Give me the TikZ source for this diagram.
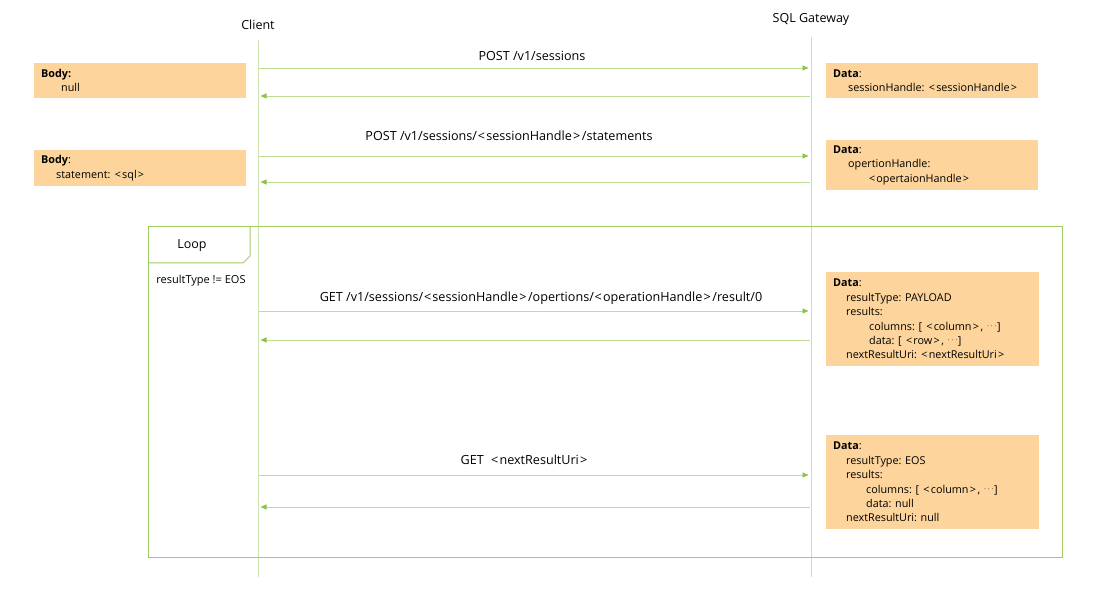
\documentclass[tikz,border=0pt]{standalone}
\usepackage{fontspec}
\setmainfont{Open Sans}
\usetikzlibrary{arrows.meta}
\definecolor{lifeline}{RGB}{205,228,175}
\definecolor{msgline}{RGB}{190,222,150}
\definecolor{tipgreen}{RGB}{140,195,70}
\definecolor{loopgreen}{RGB}{160,205,100}
\definecolor{boxfill}{RGB}{253,212,155}
\tikzset{
  lifelinestyle/.style={draw=lifeline, line width=1pt},
  msg/.style={draw=msgline, line width=0.9pt, -{Triangle[length=6pt,width=5pt,fill=tipgreen,color=tipgreen]}, shorten >=1.5pt},
  msglabel/.style={font=\fontsize{12.6}{14}\selectfont, inner sep=1pt},
  actor/.style={font=\fontsize{12.5}{14}\selectfont, inner sep=1pt},
  infobox/.style={rectangle, fill=boxfill, anchor=north west, inner xsep=7pt, inner ysep=2pt,
    align=left, font=\fontsize{10.8}{14.4}\selectfont},
  loopframe/.style={draw=loopgreen, line width=1pt},
}
\newcommand{\ind}[1]{\hspace*{#1pt}}
\newcommand{\mydots}{\raisebox{0.35ex}{\scalebox{0.8}{$\cdots$}}}
\newcommand{\LT}{\hspace{0.8pt}<\hspace{1.2pt}}
\newcommand{\GT}{\hspace{1.2pt}>\hspace{1.6pt}}
\frenchspacing
\begin{document}
\begin{tikzpicture}[x=1pt,y=-1pt]
\useasboundingbox (0,0) rectangle (1095,593);
% actors
\node[actor] (client) at (258,25) {Client};
\node[actor] (gw) at (811,19) {SQL Gateway};
\coordinate (ctop) at (258,40);
\coordinate (cbot) at (258,577);
\coordinate (gtop) at (811,37);
\coordinate (gbot) at (811,577);
\draw[lifelinestyle] (ctop) -- (cbot);
\draw[lifelinestyle] (gtop) -- (gbot);

% loop frame
\draw[loopframe] (148,227) rectangle (1062,557);
\draw[loopframe] (148,263) -- (243,263) -- (250,256) -- (250,227);
\node[font=\fontsize{12.5}{14}\selectfont] (looplbl) at (192,246) {Loop};
\node[font=\fontsize{11}{12}\selectfont] (guard) at (201,281) {resultType != EOS};

% message anchor points
\foreach \i/\y in {1/68,2/96,3/156,4/182,5/311,6/340,7/475,8/507}{
  \coordinate (c\i) at (259,\y);
  \coordinate (g\i) at (810,\y);
}
\draw[msg] (c1) -- (g1);
\draw[msg] (g2) -- (c2);
\draw[msg] (c3) -- (g3);
\draw[msg] (g4) -- (c4);
\draw[msg] (c5) -- (g5);
\draw[msg] (g6) -- (c6);
\draw[msg] (c7) -- (g7);
\draw[msg] (g8) -- (c8);

\node[msglabel] (l1) at (532,56) {POST /v1/sessions};
\node[msglabel] (l3) at (509,136) {POST /v1/sessions/\LT sessionHandle\GT/statements};
\node[msglabel] (l5) at (541,298) {GET /v1/sessions/\LT sessionHandle\GT/opertions/\LT operationHandle\GT/result/0};
\node[msglabel] (l7) at (524,460) {GET\ \ \LT nextResultUri\GT};

% boxes
\node[infobox, text width=198pt, minimum height=35pt] (b1) at (34,63)
  {\textbf{Body:}\\\ind{20}null};
\node[infobox, text width=198pt, minimum height=36pt] (b2) at (34,150)
  {\textbf{Body}:\\\ind{15}statement: \LT sql\GT};
\node[infobox, text width=198pt, minimum height=35pt] (d1) at (826,63)
  {\textbf{Data}:\\\ind{15}sessionHandle: \LT sessionHandle\GT};
\node[infobox, text width=198pt, minimum height=50pt] (d2) at (826,140)
  {\textbf{Data}:\\\ind{15}opertionHandle:\\\ind{35}\LT opertaionHandle\GT};
\node[infobox, text width=199pt, minimum height=94pt] (d3) at (826,272)
  {\textbf{Data}:\\\ind{13}resultType: PAYLOAD\\\ind{13}results:\\\ind{36}columns: [ \LT column\GT, \mydots]\\\ind{36}data: [ \LT row\GT, \mydots]\\\ind{13}nextResultUri: \LT nextResultUri\GT};
\node[infobox, text width=199pt, minimum height=94pt] (d4) at (826,435)
  {\textbf{Data}:\\\ind{13}resultType: EOS\\\ind{13}results:\\\ind{33}columns: [ \LT column\GT, \mydots]\\\ind{33}data: null\\\ind{13}nextResultUri: null};
\end{tikzpicture}
\end{document}
